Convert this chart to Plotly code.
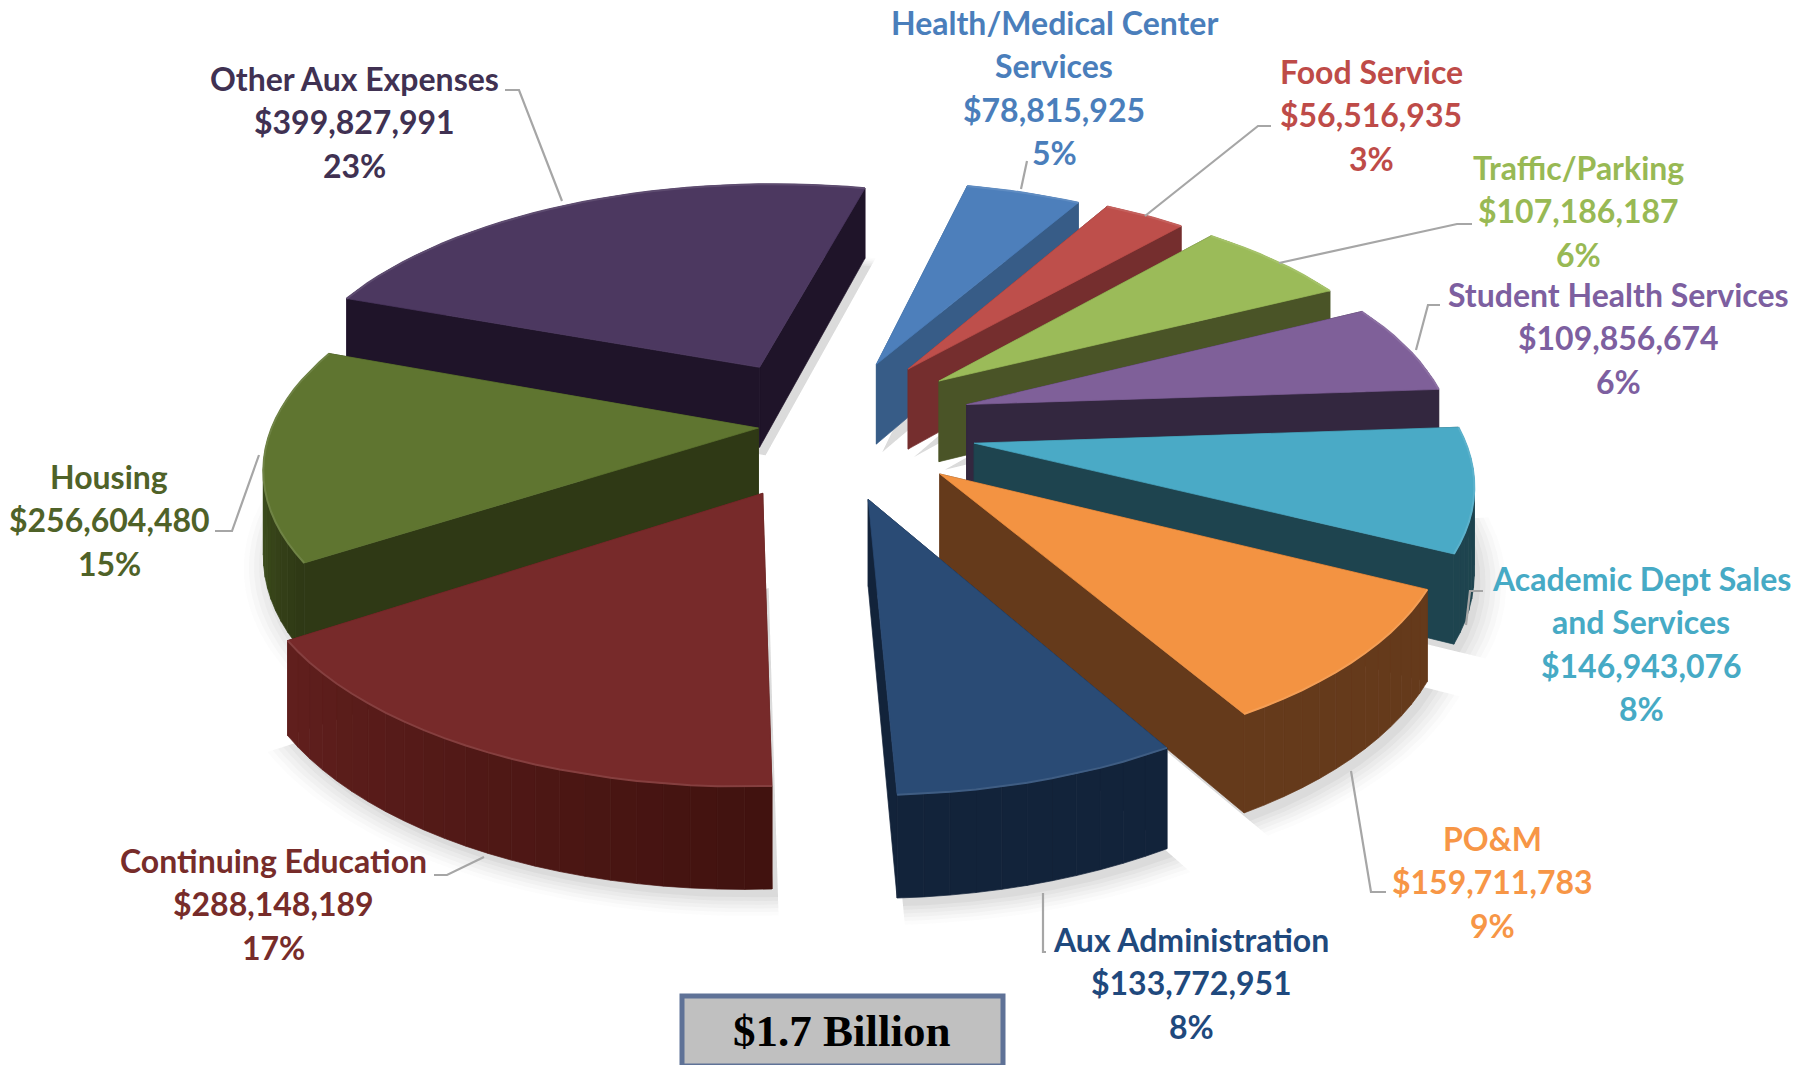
import math
import plotly.graph_objects as go

# ---- data ----
categories = ["Health/Medical Center Services", "Food Service", "Traffic/Parking", "Student Health Services",
              "Academic Dept Sales and Services", "PO&M", "Aux Administration", "Continuing Education",
              "Housing", "Other Aux Expenses"]
values = [78815925, 56516935, 107186187, 109856674, 146943076, 159711783, 133772951, 288148189, 256604480, 399827991]
percent_labels = ["5%", "3%", "6%", "6%", "8%", "9%", "8%", "17%", "15%", "23%"]
label_lines = [["Health/Medical Center", "Services"], ["Food Service"], ["Traffic/Parking"], ["Student Health Services"],
               ["Academic Dept Sales", "and Services"], ["PO&M"], ["Aux Administration"], ["Continuing Education"],
               ["Housing"], ["Other Aux Expenses"]]
total_label = "$1.7 Billion"

# ---- styles ----
top_colors = ["#4d7fbb", "#be4f4b", "#9bbb59", "#7f6099", "#4aaac6", "#f39342", "#2a4b75", "#772a2a", "#5f7530", "#4c3860"]
cut_colors = ["#375c87", "#752e2e", "#4a5427", "#33273f", "#1e444f", "#653a1b", "#12233a", "#5a1f1d", "#2f3915", "#1f1429"]
rim_start = ["#375c87", "#752e2e", "#4a5427", "#33273f", "#1e444f", "#653a1b", "#12233a", "#41120f", "#2f3915", "#3d2e4f"]
rim_end = ["#375c87", "#752e2e", "#4a5427", "#33273f", "#1e444f", "#653a1b", "#12233a", "#601f1d", "#55702b", "#3d2e4f"]
text_colors = ["#4a7ebb", "#be4b48", "#98b954", "#7d5fa0", "#46aac5", "#f79646", "#1f497d", "#772c2a", "#4f6228", "#403152"]
explode_shift = [-16, -12, -9, -6, 1, 2, 16, 18, 7, -19]
explode_scale = [1, 1, 1, 1, 1, 0.92, 1, 1.3, 1, 1.4]
label_centers = [(1054, 10), (1371, 59), (1578, 155), (1618, 282), (1641, 566), (1492, 826), (1191, 927), (273, 848), (109, 464), (354, 66)]
leaders = [[(1027, 161), (1021, 189)], [(1271, 126), (1258, 126), (1145, 216)], [(1472, 224), (1457, 224), (1279, 263)],
           [(1440, 305), (1428, 305), (1416, 350)], [(1483, 591), (1470, 591), (1466, 625)],
           [(1386, 892), (1371, 892), (1351, 771)], [(1046, 952), (1043, 952), (1043, 893)],
           [(434, 875), (447, 875), (484, 857)], [(215, 531), (232, 531), (259, 455)], [(505, 90), (519, 90), (562, 201)]]

# ---- projection ----
CX, CY, S, B, K, H, PULL, PULL_Y = 867, 512, 487, 0.493, 0.15, 0.171, 0.223, 1.33
START = 13.0


def proj(X, Y, Z=0.0):
    w = 1 + K * Y
    return CX + S * X / w, CY - S * (B * Y + H * Z) / w


def mix(a, b, t):
    ca = [int(a[i:i + 2], 16) for i in (1, 3, 5)]
    cb = [int(b[i:i + 2], 16) for i in (1, 3, 5)]
    return "#%02x%02x%02x" % tuple(round(x + (y - x) * t) for x, y in zip(ca, cb))


fig = go.Figure()


def poly(pts, color, line=None):
    xs = [p[0] for p in pts] + [pts[0][0]]
    ys = [p[1] for p in pts] + [pts[0][1]]
    fig.add_trace(go.Scatter(x=xs, y=ys, mode="lines", fill="toself", fillcolor=color,
                             line=dict(color=line or color, width=0.7 if line else 0),
                             hoverinfo="skip", showlegend=False))


total = sum(values)
wedges = []
a = START
for i, v in enumerate(values):
    sweep = v / total * 360
    mid = a + sweep / 2 + explode_shift[i]
    p = PULL * explode_scale[i]
    ax, ay = p * math.sin(math.radians(mid)), p * PULL_Y * math.cos(math.radians(mid))
    wedges.append(dict(i=i, a0=a, a1=a + sweep, ax=ax, ay=ay))
    a += sweep


def rim(w, n, r=1.0):
    return [(w["ax"] + r * math.sin(math.radians(w["a0"] + (w["a1"] - w["a0"]) * t / n)),
             w["ay"] + r * math.cos(math.radians(w["a0"] + (w["a1"] - w["a0"]) * t / n))) for t in range(n + 1)]


# soft ground shadow
for grow, alpha in [(1.05, 0.02), (1.04, 0.03), (1.03, 0.035), (1.02, 0.04), (1.01, 0.05), (1.0, 0.06)]:
    for w in wedges:
        pts = [proj(w["ax"], w["ay"])] + [proj(X, Y) for X, Y in rim(w, 40, grow)]
        pts = [(x + 6, y + 8) for x, y in pts]
        poly(pts, "rgba(90,90,90,%g)" % alpha)

# wedges, far ones first
for w in sorted(wedges, key=lambda d: -(d["ay"] + 0.25 * math.cos(math.radians((d["a0"] + d["a1"]) / 2)))):
    i = w["i"]
    n = max(8, int((w["a1"] - w["a0"]) / 2.5))
    ring = rim(w, n)
    faces = []
    for side, end in ((0, ring[0]), (1, ring[-1])):
        Ym = (w["ay"] + end[1]) / 2
        q = [proj(w["ax"], w["ay"], 0), proj(end[0], end[1], 0), proj(end[0], end[1], 1), proj(w["ax"], w["ay"], 1)]
        faces.append((Ym, q, cut_colors[i]))
    for t in range(n):
        (x0, y0), (x1, y1) = ring[t], ring[t + 1]
        q = [proj(x0, y0, 0), proj(x1, y1, 0), proj(x1, y1, 1), proj(x0, y0, 1)]
        faces.append(((y0 + y1) / 2, q, mix(rim_start[i], rim_end[i], t / max(n - 1, 1))))
    for _, q, c in sorted(faces, key=lambda f: -f[0]):
        poly(q, c, line=c)
    poly([proj(w["ax"], w["ay"], 1)] + [proj(X, Y, 1) for X, Y in ring], top_colors[i], line=top_colors[i])
    fig.add_trace(go.Scatter(x=[proj(X, Y, 1)[0] for X, Y in ring], y=[proj(X, Y, 1)[1] for X, Y in ring],
                             mode="lines", line=dict(color=mix(top_colors[i], "#ffffff", 0.1), width=2),
                             hoverinfo="skip", showlegend=False))

# leader lines
for seg in leaders:
    fig.add_trace(go.Scatter(x=[p[0] for p in seg], y=[p[1] for p in seg], mode="lines",
                             line=dict(color="#a6a6a6", width=2.2), hoverinfo="skip", showlegend=False))

# labels
LINE = 43.5
ann = []
for i, (cx, top) in enumerate(label_centers):
    lines = label_lines[i] + ["${:,}".format(values[i]), percent_labels[i]]
    for k, t in enumerate(lines):
        ann.append(dict(x=cx, y=top + LINE * k + 12, text="<b>%s</b>" % t, showarrow=False, xref="x", yref="y",
                        xanchor="center", yanchor="middle",
                        font=dict(family="Lato", size=32, color=text_colors[i])))
ann.append(dict(x=842, y=1031, text="<b>%s</b>" % total_label, showarrow=False, xref="x", yref="y",
                font=dict(family="Liberation Serif", size=45, color="#000000")))

fig.update_layout(
    width=1799, height=1065, margin=dict(l=0, r=0, t=0, b=0), paper_bgcolor="white", plot_bgcolor="white",
    xaxis=dict(range=[0, 1799], visible=False, fixedrange=True),
    yaxis=dict(range=[1065, 0], visible=False, fixedrange=True),
    showlegend=False, annotations=ann,
    shapes=[dict(type="rect", xref="x", yref="y", x0=682, x1=1003, y0=996, y1=1066,
                 fillcolor="#c0c0c0", line=dict(color="#5f7297", width=5))],
)
fig.write_html("out.html", config={"displayModeBar": False},
               post_script="document.body.style.margin='0';document.body.style.overflow='hidden';")
